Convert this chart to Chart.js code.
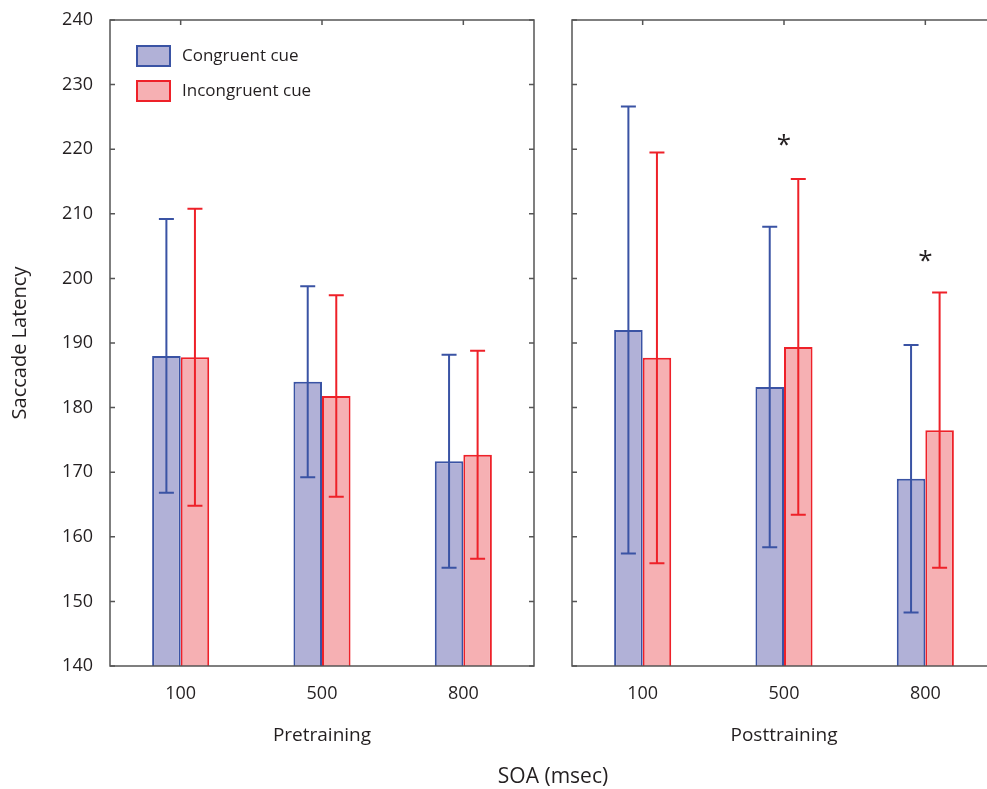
<!DOCTYPE html>
<html>
<head>
<meta charset="utf-8">
<script src="https://cdn.jsdelivr.net/npm/chart.js@4.4.1/dist/chart.umd.min.js"></script>
<style>
  body { margin: 0; width: 987px; height: 789px; overflow: hidden; background: #fff; position: relative; font-family: "Open Sans", sans-serif; }
  #leftBox { position: absolute; left: 0; top: 0; width: 540px; height: 789px; }
  #rightBox { position: absolute; left: 540px; top: 0; width: 470px; height: 789px; }
  #soa { position: absolute; left: 403px; width: 300px; top: 761px; text-align: center; font-size: 21px; color: #231f20; }
</style>
</head>
<body>
<div id="leftBox"><canvas id="pre" width="540" height="789"></canvas></div>
<div id="rightBox"><canvas id="post" width="470" height="789"></canvas></div>
<div id="soa">SOA (msec)</div>
<script>
// data
const soaLabels = ['100', '500', '800']
const preCongruent = [188, 184, 171.7]
const preCongruentErr = [21.2, 14.8, 16.5]
const preIncongruent = [187.8, 181.8, 172.7]
const preIncongruentErr = [23, 15.6, 16.1]
const postCongruent = [192, 183.2, 169]
const postCongruentErr = [34.6, 24.8, 20.7]
const postIncongruent = [187.7, 189.4, 176.5]
const postIncongruentErr = [31.8, 26, 21.3]
const preStars = [null, null, null]
const postStars = [null, 221.5, 203.5]
const yMin = 140, yMax = 240, yStep = 10

const txt = '#231f20'
const axisCol = '#555555'
const blueFill = '#b1b1d7', blueLine = '#3a53a4'
const redFill = '#f6b0b3', redLine = '#ee2129'

// frame, inward ticks, error bars, stars
const extras = {
    id: 'extras',
    afterDatasetsDraw(chart, args, opts) {
        const ctx = chart.ctx
        const a = chart.chartArea
        const x = chart.scales.x, y = chart.scales.y
        ctx.save()
        // error bars
        chart.data.datasets.forEach((ds, di) => {
            const meta = chart.getDatasetMeta(di)
            ctx.strokeStyle = ds.borderColor
            ctx.lineWidth = 2
            meta.data.forEach((bar, i) => {
                const top = y.getPixelForValue(ds.data[i] + ds.err[i])
                const bot = y.getPixelForValue(ds.data[i] - ds.err[i])
                ctx.beginPath()
                ctx.moveTo(bar.x, top); ctx.lineTo(bar.x, bot)
                ctx.moveTo(bar.x - 7.5, top); ctx.lineTo(bar.x + 7.5, top)
                ctx.moveTo(bar.x - 7.5, bot); ctx.lineTo(bar.x + 7.5, bot)
                ctx.stroke()
            })
        })
        // frame
        ctx.strokeStyle = axisCol
        ctx.lineWidth = 1.5
        ctx.strokeRect(a.left, a.top, a.right - a.left, a.bottom - a.top)
        ctx.beginPath()
        y.ticks.forEach(t => {
            const py = y.getPixelForValue(t.value)
            ctx.moveTo(a.left, py); ctx.lineTo(a.left + 5, py)
            ctx.moveTo(a.right, py); ctx.lineTo(a.right - 5, py)
        })
        soaLabels.forEach((l, i) => {
            const px = x.getPixelForValue(i)
            ctx.moveTo(px, a.top); ctx.lineTo(px, a.top + 5)
        })
        ctx.stroke()
        // significance stars
        ctx.fillStyle = txt
        ctx.font = '26px "Open Sans"'
        ctx.textAlign = 'center'
        ctx.textBaseline = 'middle'
        opts.stars.forEach((s, i) => {
            if (s === null) return
            ctx.fillText('*', x.getPixelForValue(i), y.getPixelForValue(s) + 6)
        })
        // legend
        if (opts.legend) {
            ctx.font = '17px "Open Sans"'
            ctx.textAlign = 'left'
            chart.data.datasets.forEach((ds, di) => {
                const by = 46 + di * 35
                ctx.fillStyle = ds.backgroundColor
                ctx.fillRect(137, by, 33, 20)
                ctx.strokeStyle = ds.borderColor
                ctx.lineWidth = 2
                ctx.strokeRect(137, by, 33, 20)
                ctx.fillStyle = txt
                ctx.fillText(ds.label, 182, by + 10)
            })
        }
        ctx.restore()
    }
}

function makePanel(id, panelTitle, cong, congErr, incong, incongErr, stars, first) {
    const ctx = document.getElementById(id).getContext('2d')
    return new Chart(ctx, {
        type: 'bar',
        data: {
            labels: soaLabels,
            datasets: [
                { label: 'Congruent cue', data: cong, err: congErr, backgroundColor: blueFill, borderColor: blueLine, borderWidth: 2, borderSkipped: false },
                { label: 'Incongruent cue', data: incong, err: incongErr, backgroundColor: redFill, borderColor: redLine, borderWidth: 2, borderSkipped: false }
            ]
        },
        options: {
            responsive: false,
            animation: false,
            categoryPercentage: 0.404,
            barPercentage: 1,
            layout: { padding: first ? { top: 20, right: 6, left: 0, bottom: 0 } : { top: 20, right: 14, left: 0, bottom: 0 } },
            scales: {
                x: {
                    grid: { display: false, drawTicks: false },
                    border: { display: false },
                    ticks: { padding: 17, color: txt, font: { family: '"Open Sans"', size: 18 } },
                    title: { display: true, text: panelTitle, color: txt, font: { family: '"Open Sans"', size: 19 }, padding: { top: 0, bottom: 42 } },
                    afterFit(s) { s.height = 123 }
                },
                y: {
                    display: first,
                    min: yMin, max: yMax,
                    grid: { display: false, drawTicks: false },
                    border: { display: false },
                    ticks: { stepSize: yStep, padding: 17, color: txt, font: { family: '"Open Sans"', size: 18 } },
                    title: { display: true, text: 'Saccade Latency', color: txt, font: { family: '"Open Sans"', size: 20 }, padding: { top: 8, bottom: 0 } },
                    afterFit(s) { s.width = first ? 110 : 32; s.paddingTop = 0; s.paddingBottom = 0 }
                }
            },
            plugins: {
                legend: { display: false },
                tooltip: { enabled: false },
                extras: { stars, legend: first }
            }
        },
        plugins: [extras]
    })
}

makePanel('pre', 'Pretraining', preCongruent, preCongruentErr, preIncongruent, preIncongruentErr, preStars, true)
makePanel('post', 'Posttraining', postCongruent, postCongruentErr, postIncongruent, postIncongruentErr, postStars, false)
</script>
</body>
</html>
